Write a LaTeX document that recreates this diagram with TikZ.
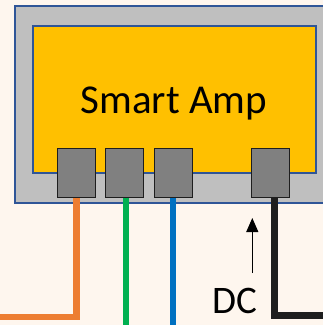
\documentclass[tikz,border=0pt]{standalone}
\usepackage{fontspec}
\setmainfont{Carlito}
\usetikzlibrary{arrows.meta}
\definecolor{bgc}{HTML}{FEF6EE}
\definecolor{boxgrey}{HTML}{BFBFBF}
\definecolor{boxblue}{HTML}{2F5597}
\definecolor{ampyellow}{HTML}{FFC000}
\definecolor{portgrey}{HTML}{808080}
\definecolor{wireorange}{HTML}{ED7D31}
\definecolor{wiregreen}{HTML}{00B050}
\definecolor{wireblue}{HTML}{0070C0}
\definecolor{wireblack}{HTML}{1E1E1E}
\begin{document}
\begin{tikzpicture}[x=1pt,y=-1pt,
  port/.style={draw=wireblack, fill=portgrey, line width=1.5pt, minimum width=38pt, minimum height=49pt, inner sep=0pt},
  wire/.style={line width=6.5pt},
  lbl/.style={inner sep=0pt, anchor=base}]
\fill[bgc] (0,0) rectangle (323,325);
\useasboundingbox (0,0) rectangle (323,325);
% box
\draw[boxblue, fill=boxgrey, line width=1.8pt] (15,6) rectangle (330,203);
\draw[boxblue, fill=ampyellow, line width=1.8pt] (33,26) rectangle (316,173);
\node[lbl, font=\fontsize{41}{46}\selectfont] (amp) at (174,113) {Smart Amp};
% ports
\node[port] (p1) at (76.5,173) {};
\node[port] (p2) at (124.5,173) {};
\node[port] (p3) at (173.5,173) {};
\node[port] (p4) at (270.5,173) {};
% wire ends
\coordinate (oend) at (0,317);
\coordinate (gend) at (126,326);
\coordinate (bend) at (173,326);
\coordinate (kend) at (323,315.5);
\draw[wireorange, wire] (p1.south) |- (oend);
\draw[wiregreen, wire] (p2.south -| gend) -- (gend);
\draw[wireblue, wire] (p3.south -| bend) -- (bend);
\draw[wireblack, wire] ([xshift=4pt]p4.south) |- (kend);
% DC arrow
\coordinate (ab) at (252.3,273);
\coordinate (at) at (252.3,218);
\draw[-{Triangle[length=14pt,width=12pt]}, line width=1pt] (ab) -- (at);
\node[lbl, font=\fontsize{39}{44}\selectfont] (dc) at (235,313) {DC};
\end{tikzpicture}
\end{document}
